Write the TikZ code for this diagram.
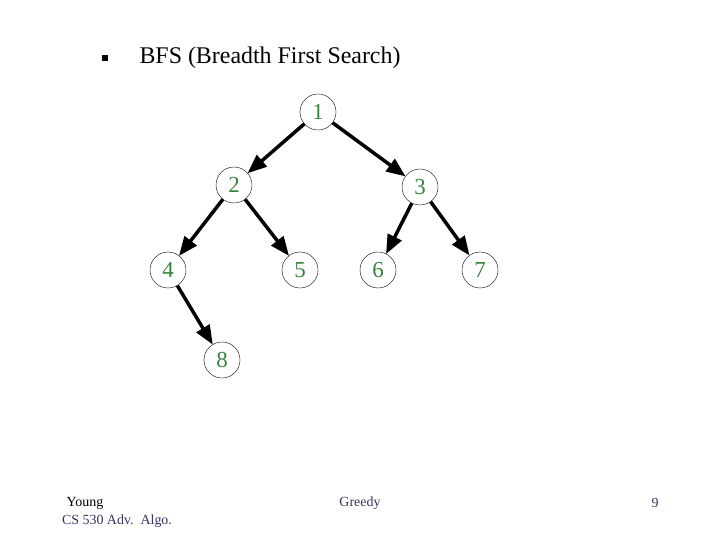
\documentclass[tikz,border=0pt]{standalone}
\usepackage{fontspec}
\setmainfont{Liberation Serif}
\usetikzlibrary{arrows,positioning}
\definecolor{labelgreen}{RGB}{56,130,64}
\definecolor{footblue}{RGB}{51,51,102}
\begin{document}
\begin{tikzpicture}[x=1bp,y=-1bp,
    vertex/.style={circle, draw, thin, minimum size=36bp, inner sep=0pt, text=labelgreen, font=\fontsize{23}{23}\selectfont},
    edge/.style={->, >=triangle 45, line width=3.5bp},
    foot/.style={font=\fontsize{14}{16}\selectfont}]
  \useasboundingbox (0,0) rectangle (720,540);
  \node[fill=black, minimum size=6.5bp, inner sep=0pt] (bullet) at (105,58) {};
  \node[anchor=west, font=\fontsize{24}{27}\selectfont] (title) at (136,58) {BFS (Breadth First Search)};
  \node[vertex] (n1) at (318,112) {1};
  \node[vertex] (n2) at (234,185) {2};
  \node[vertex] (n3) at (420,187) {3};
  \node[vertex] (n4) at (168,270) {4};
  \node[vertex] (n5) at (300,270) {5};
  \node[vertex] (n6) at (378,270) {6};
  \node[vertex] (n7) at (480,270) {7};
  \node[vertex] (n8) at (222,360) {8};
  \draw[edge] (n1) -- (n2);
  \draw[edge] (n1) -- (n3);
  \draw[edge] (n2) -- (n4);
  \draw[edge] (n2) -- (n5);
  \draw[edge] (n3) -- (n6);
  \draw[edge] (n3) -- (n7);
  \draw[edge] (n4) -- (n8);
  \node[foot] (young) at (85,503) {Young};
  \node[foot, text=footblue] (course) at (117,521) {CS 530 Adv.\ \ Algo.};
  \node[foot, text=footblue] (topic) at (360,503) {Greedy};
  \node[foot, text=footblue] (page) at (655,503) {9};
\end{tikzpicture}
\end{document}
